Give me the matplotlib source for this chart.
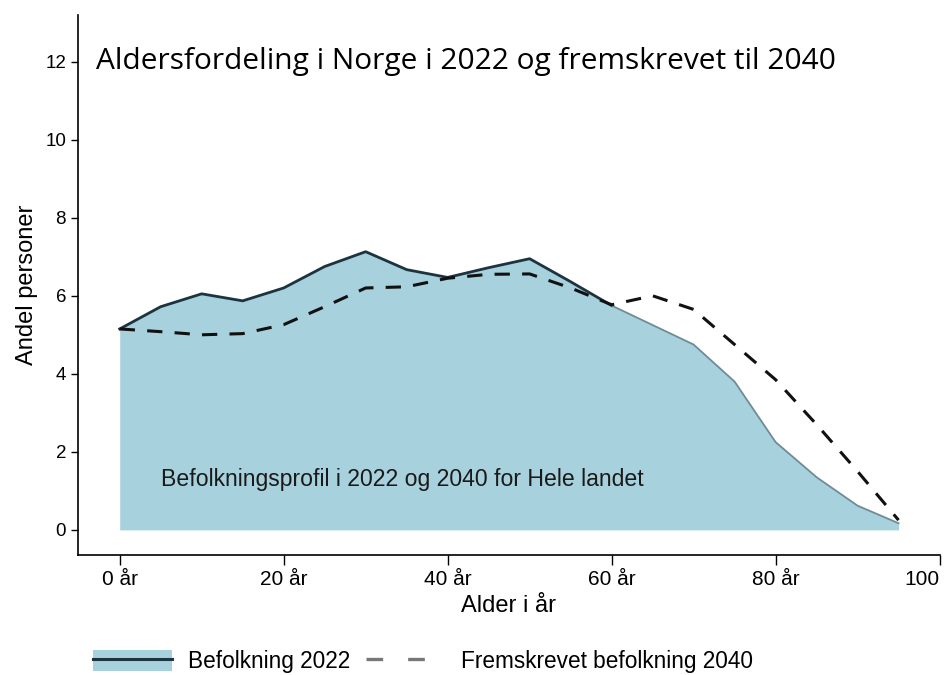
import matplotlib
matplotlib.use("Agg")
import matplotlib.pyplot as plt
from matplotlib.patches import Patch
from matplotlib.lines import Line2D

# alder i 5-års steg
alder = [0, 5, 10, 15, 20, 25, 30, 35, 40, 45, 50, 55, 60, 65, 70, 75, 80, 85, 90, 95]
# andel personer 2022 (%)
bef_2022 = [5.15, 5.72, 6.05, 5.87, 6.2, 6.75, 7.13, 6.67, 6.47, 6.72, 6.95, 6.36, 5.75,
            5.25, 4.75, 3.8, 2.25, 1.35, 0.62, 0.17]
# fremskrevet 2040 (%)
bef_2040 = [5.15, 5.08, 5.0, 5.03, 5.26, 5.72, 6.2, 6.23, 6.45, 6.55, 6.56, 6.2, 5.77,
            6.0, 5.65, 4.75, 3.85, 2.7, 1.5, 0.25]

xticks = [0, 20, 40, 60, 80, 100]
xlabels = ["0 år", "20 år", "40 år", "60 år", "80 år", "100"]
yticks = [0, 2, 4, 6, 8, 10, 12]

fill_col = "#a7d1dd"
line_col = "#1c3440"

plt.rcParams["font.family"] = ["Liberation Sans", "DejaVu Sans"]

fig = plt.figure(figsize=(9.5, 6.75), dpi=100)
ax = fig.add_axes([0.082, 0.178, 0.907, 0.8])

ax.fill_between(alder, 0, bef_2022, color=fill_col, linewidth=0)
# mørk linje til 60 år, lysere etterpå
ax.plot(alder[:13], bef_2022[:13], color=line_col, lw=2.0)
ax.plot(alder[12:], bef_2022[12:], color="#6f8c96", lw=1.3)
ax.plot(alder, bef_2040, color="#111111", lw=2.2, dashes=(5, 4))

ax.set_xlim(-5.1, 100)
ax.set_ylim(-0.64, 13.2)
ax.set_xticks(xticks)
ax.set_xticklabels(xlabels, fontsize=15)
ax.set_yticks(yticks)
ax.tick_params(axis="y", labelsize=13.5, length=5, width=1, direction="out")
ax.tick_params(axis="x", length=7, width=1, direction="out", pad=4)
# siste etikett er høyrejustert i originalen
last = ax.get_xticklabels()[-1]
last.set_horizontalalignment("right")
last.set_x(100.7)

for s in ["top", "right"]:
    ax.spines[s].set_visible(False)
ax.spines["left"].set_linewidth(1.2)
ax.spines["bottom"].set_linewidth(1.2)

ax.set_xlabel("Alder i år", fontsize=17, labelpad=4)
ax.set_ylabel("Andel personer", fontsize=17, labelpad=5)

ax.text(-2.9, 12.0, "Aldersfordeling i Norge i 2022 og fremskrevet til 2040",
        fontsize=21.5, family=["Open Sans", "DejaVu Sans"], va="center", ha="left")
ax.text(5, 1.3, "Befolkningsprofil i 2022 og 2040 for Hele landet",
        fontsize=16.6, va="center", ha="left", color="#1a1a1a")

h1 = (Patch(facecolor=fill_col, edgecolor="none"), Line2D([], [], color=line_col, lw=2.2))
h2 = Line2D([], [], color="#777777", lw=2.4, dashes=(5, 7.5))
fig.legend([h1, h2], ["Befolkning 2022", "Fremskrevet befolkning 2040"],
           loc="center left", bbox_to_anchor=(0.076, 0.02), ncol=2, frameon=False,
           fontsize=16.3, handlelength=3.5, handleheight=1.1, columnspacing=0.7,
           handletextpad=0.7)

fig.savefig("out.png", dpi=100)
